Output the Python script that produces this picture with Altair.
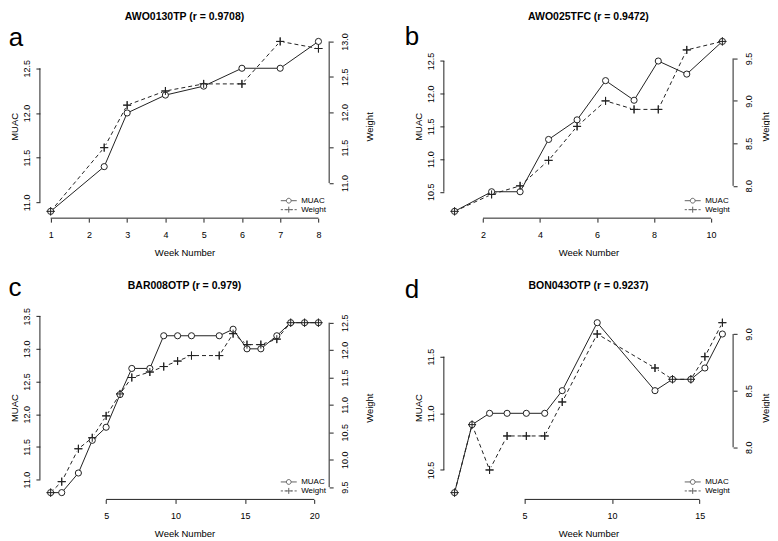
import altair as alt
import pandas as pd

FONT = "Liberation Sans"
INK = "#222222"
W, H = 290, 184

# ---------------- data ----------------
a_title = "AWO0130TP (r = 0.9708)"
a_week = [1, 2.4, 3, 4, 5, 6, 7, 8]
a_muac = [10.9, 11.4, 12.0, 12.2, 12.3, 12.5, 12.5, 12.8]
a_weight = [10.6, 11.5, 12.1, 12.3, 12.4, 12.4, 13.0, 12.9]
a_xticks = [1, 2, 3, 4, 5, 6, 7, 8]
a_muac_ticks = [11.0, 11.5, 12.0, 12.5]
a_weight_ticks = [11.0, 11.5, 12.0, 12.5, 13.0]

b_title = "AWO025TFC (r = 0.9472)"
b_week = [1, 2.3, 3.3, 4.3, 5.3, 6.3, 7.3, 8.15, 9.15, 10.4]
b_muac = [10.2, 10.5, 10.5, 11.3, 11.6, 12.2, 11.9, 12.5, 12.3, 12.8]
b_weight = [7.7, 7.9, 8.0, 8.3, 8.7, 9.0, 8.9, 8.9, 9.6, 9.7]
b_xticks = [2, 4, 6, 8, 10]
b_muac_ticks = [10.5, 11.0, 11.5, 12.0, 12.5]
b_weight_ticks = [8.0, 8.5, 9.0, 9.5]

c_title = "BAR008OTP (r = 0.979)"
c_week = [1, 1.8, 3, 4, 5, 6, 6.85, 8.15, 9.15, 10.15, 11.15, 13.15, 14.15,
          15.15, 16.15, 17.3, 18.3, 19.3, 20.3]
c_muac = [10.8, 10.8, 11.1, 11.6, 11.8, 12.3, 12.7, 12.7, 13.2, 13.2, 13.2,
          13.2, 13.3, 13.0, 13.0, 13.2, 13.4, 13.4, 13.4]
c_weight = [9.4, 9.6, 10.2, 10.4, 10.8, 11.2, 11.5, 11.6, 11.7, 11.8, 11.9,
            11.9, 12.3, 12.1, 12.1, 12.2, 12.5, 12.5, 12.5]
c_xticks = [5, 10, 15, 20]
c_muac_ticks = [11.0, 11.5, 12.0, 12.5, 13.0, 13.5]
c_weight_ticks = [9.5, 10.0, 10.5, 11.0, 11.5, 12.0, 12.5]

d_title = "BON043OTP (r = 0.9237)"
d_week = [1, 2, 3, 4, 5.1, 6.15, 7.15, 9.15, 12.45, 13.45, 14.5, 15.3, 16.3]
d_muac = [10.3, 10.9, 11.0, 11.0, 11.0, 11.0, 11.2, 11.8, 11.2, 11.3, 11.3, 11.4, 11.7]
d_weight = [7.6, 8.2, 7.8, 8.1, 8.1, 8.1, 8.4, 9.0, 8.7, 8.6, 8.6, 8.8, 9.1]
d_xticks = [5, 10, 15]
d_muac_ticks = [10.5, 11.0, 11.5]
d_weight_ticks = [8.0, 8.5, 9.0]

series_names = ["MUAC", "Weight"]

# ---------------- symbols ----------------
PLUS = "M-1,0H1M0,-1V1"
LEG_MUAC = "M-2,0H-0.6M0.6,0H2M0.6,0A0.6,0.6,0,1,1,-0.6,0A0.6,0.6,0,1,1,0.6,0"
LEG_WEIGHT = "M-2,0H-1.45M-1.05,0H-0.5M0.5,0H1.05M1.45,0H2M0,-0.75V0.75M-0.75,0H0.75"


def ext(vals):
    lo, hi = min(vals), max(vals)
    r = hi - lo
    return [lo - 0.04 * r, hi + 0.04 * r]


def panel(title, ty, letter, lx, ly, week, muac, weight, xt, mt, wt, wtitle_pad):
    df = pd.DataFrame({"week": week, "muac": muac, "weight": weight})
    xs = alt.Scale(domain=ext(week), nice=False, zero=False)
    ms = alt.Scale(domain=ext(muac), nice=False, zero=False)
    ws = alt.Scale(domain=ext(weight), nice=False, zero=False)

    xax = alt.Axis(values=xt, title="Week Number", labelPadding=8,
                   titlePadding=8, labelFlush=False, format="d")
    m_ax = alt.Axis(orient="left", values=mt, title="MUAC", labelAngle=-90,
                    labelAlign="center", labelBaseline="bottom",
                    labelPadding=4, titlePadding=3, format=".1f")
    w_ax = alt.Axis(orient="right", values=wt, title="Weight", labelAngle=-90,
                    labelAlign="center", labelBaseline="top",
                    labelPadding=7, titlePadding=wtitle_pad, titleAngle=270,
                    titleBaseline="top", format=".1f")

    X = alt.X("week:Q", scale=xs, axis=xax)
    base = alt.Chart(df)

    # ---- weight (right axis) ----
    WY = alt.Y("weight:Q", scale=ws, axis=w_ax)
    w_line = base.mark_line(color=INK, strokeWidth=1, strokeDash=[4, 3]).encode(x=X, y=WY)
    w_gap = base.mark_point(filled=True, color="white", size=42, opacity=1).encode(x=X, y=WY)
    w_plus = base.mark_point(shape=PLUS, filled=False, color=INK, size=64,
                             strokeWidth=1, opacity=1).encode(x=X, y=WY)
    w_rule = alt.Chart(pd.DataFrame({"lo": [wt[0]], "hi": [wt[-1]]})).mark_rule(
        color=INK, strokeWidth=1).encode(
        x=alt.value(W), y=alt.Y("lo:Q", scale=ws, axis=w_ax), y2="hi:Q")
    layer_w = alt.layer(w_line, w_gap, w_plus, w_rule)

    # ---- MUAC (left axis) ----
    MY = alt.Y("muac:Q", scale=ms, axis=m_ax)
    m_line = base.mark_line(color=INK, strokeWidth=1).encode(x=X, y=MY)
    m_pts = base.mark_point(shape="circle", filled=True, fill="white", stroke=INK,
                            size=38, strokeWidth=1, opacity=1).encode(x=X, y=MY)
    m_rule = alt.Chart(pd.DataFrame({"lo": [mt[0]], "hi": [mt[-1]]})).mark_rule(
        color=INK, strokeWidth=1).encode(
        x=alt.value(0), y=alt.Y("lo:Q", scale=ms, axis=m_ax), y2="hi:Q")
    x_rule = alt.Chart(pd.DataFrame({"lo": [xt[0]], "hi": [xt[-1]]})).mark_rule(
        color=INK, strokeWidth=1).encode(
        x=alt.X("lo:Q", scale=xs, axis=xax), x2="hi:Q", y=alt.value(H))
    legend_layer = alt.Chart(pd.DataFrame({"series": pd.Series([], dtype=str)})).mark_point(
        color=INK, filled=False).encode(
        shape=alt.Shape("series:N",
                        scale=alt.Scale(domain=series_names, range=[LEG_MUAC, LEG_WEIGHT]),
                        legend=alt.Legend(orient="bottom-right", offset=3, padding=0,
                                          title=None, labelFont=FONT, labelFontSize=8,
                                          labelColor="black", symbolSize=64,
                                          symbolStrokeColor=INK, symbolStrokeWidth=1,
                                          symbolFillColor="transparent",
                                          labelOffset=8, rowPadding=-2)))
    letter_layer = alt.Chart(pd.DataFrame({"t": [letter]})).mark_text(
        font=FONT, fontSize=26, align="center", baseline="alphabetic", color="black").encode(
        text="t:N", x=alt.value(lx), y=alt.value(ly))
    title_layer = alt.Chart(pd.DataFrame({"t": [title]})).mark_text(
        font=FONT, fontSize=10.5, fontWeight="bold", align="center", baseline="middle",
        color="black").encode(text="t:N", x=alt.value(W / 2), y=alt.value(ty))
    layer_m = alt.layer(m_line, m_pts, m_rule, x_rule, legend_layer, letter_layer, title_layer)

    # ---- plus overlay so coincident points show both symbols ----
    WY2 = alt.Y("weight:Q", scale=ws, axis=None)
    w_plus2 = base.mark_point(shape=PLUS, filled=False, color=INK, size=64,
                              strokeWidth=1, opacity=1).encode(x=X, y=WY2)

    return alt.layer(layer_w, layer_m, w_plus2).resolve_scale(y="independent").properties(
        width=W, height=H)


pa = panel(a_title, -18, "a", -24, 11, a_week, a_muac, a_weight, a_xticks,
           a_muac_ticks, a_weight_ticks, 15)
pb = panel(b_title, -18, "b", -32, 10, b_week, b_muac, b_weight, b_xticks,
           b_muac_ticks, b_weight_ticks, 7)
pc = panel(c_title, -30, "c", -25, -20, c_week, c_muac, c_weight, c_xticks,
           c_muac_ticks, c_weight_ticks, 15)
pd_ = panel(d_title, -30, "d", -32, -18, d_week, d_muac, d_weight, d_xticks,
            d_muac_ticks, d_weight_ticks, 7)

row1 = alt.hconcat(pa, pb, spacing=30).resolve_scale(shape="independent").resolve_legend(shape="independent")
row2 = alt.hconcat(pc, pd_, spacing=30).resolve_scale(shape="independent").resolve_legend(shape="independent")

chart = alt.vconcat(row1, row2, spacing=18).resolve_scale(
    shape="independent").resolve_legend(shape="independent").properties(
    padding={"top": 3, "left": 0, "right": 0, "bottom": 0}, background="white"
).configure_view(stroke=None).configure_axis(
    grid=False, domain=False, tickColor=INK, tickSize=4, tickWidth=1,
    labelFont=FONT, labelFontSize=9, labelColor="black",
    titleFont=FONT, titleFontSize=9.5, titleFontWeight="normal", titleColor="black"
)

chart.save("out.html", embed_options={"renderer": "svg", "actions": False})
